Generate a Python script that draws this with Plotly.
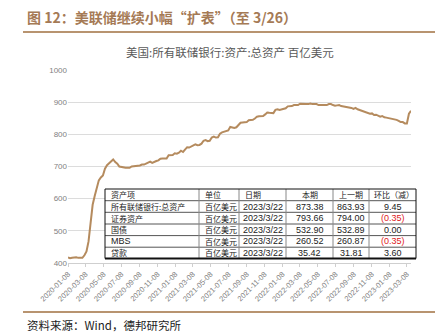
import plotly.graph_objects as go
import pandas as pd

# ---------------- data ----------------
start_date = "2020-01-08"
end_date = "2023-03-22"
values_2020 = [417, 415, 416, 417, 418, 416, 417, 416, 424, 436, 467, 525,
               581, 608, 637, 657, 666, 672, 693, 704, 710, 717, 722, 714, 709,
               700, 698, 697, 696, 696, 696, 700, 701, 700, 702, 703, 706, 706, 709,
               712, 715, 711, 715, 717, 719, 724, 725, 726, 725, 735, 736, 736]
values_2021 = [741, 740, 743, 749, 745, 752, 760, 759, 763, 765, 769, 766, 767,
               771, 780, 782, 779, 780, 790, 793, 790, 791, 802, 806, 808, 808,
               812, 823, 822, 820, 822, 830, 836, 837, 838, 838, 844, 845, 845,
               849, 855, 856, 856, 857, 862, 868, 867, 866, 866, 876, 878, 876]
values_2022 = [878, 879, 881, 887, 887, 888, 891, 890, 891, 895, 894, 894, 894,
               894, 896, 894, 894, 894, 891, 892, 891, 891, 891, 894, 894, 891,
               889, 890, 891, 888, 887, 885, 884, 885, 882, 879, 882, 878, 876,
               872, 870, 869, 868, 864, 865, 860, 861, 857, 855, 857, 853, 852]
values_2023 = [851, 848, 849, 847, 845, 842, 838, 838, 834, 834, 863.93, 873.38]
values = values_2020 + values_2021 + values_2022 + values_2023
dates = pd.date_range(start_date, end_date, freq="7D")

tick_dates = ["2020-01-08", "2020-03-08", "2020-05-08", "2020-07-08", "2020-09-08",
              "2020-11-08", "2021-01-08", "2021-03-08", "2021-05-08", "2021-07-08",
              "2021-09-08", "2021-11-08", "2022-01-08", "2022-03-08", "2022-05-08",
              "2022-07-08", "2022-09-08", "2022-11-08", "2023-01-08", "2023-03-08"]
y_ticks = [400, 500, 600, 700, 800, 900, 1000]

table_header = ["资产项", "单位", "日期", "本期", "上一期", "环比（减）"]
table_items = ["所有联储银行:总资产", "证券资产", "国债", "MBS", "贷款"]
table_unit = ["百亿美元"] * 5
table_date = ["2023/3/22"] * 5
table_current = ["873.38", "793.66", "532.90", "260.52", "35.42"]
table_previous = ["863.93", "794.00", "532.89", "260.87", "31.81"]
table_change = ["9.45", "(0.35)", "0.00", "(0.35)", "3.60"]

title_text = "图 12：美联储继续小幅“扩表”（至 3/26）"
chart_title = "美国:所有联储银行:资产:总资产 百亿美元"
source_text = "资料来源：Wind，德邦研究所"

# ---------------- layout helpers ----------------
W, H = 448, 333
L, R, T, B = 68, 37, 70, 70
PW, PH = W - L - R, H - T - B


def px(x):
    return (x - L) / PW


def py(y):
    return (H - B - y) / PH


CJK = "Noto Sans CJK SC"
LINE_COLOR = "#B58B5E"
BROWN = "#A57A55"

fig = go.Figure()
fig.add_trace(go.Scatter(x=dates, y=values, mode="lines",
                         line=dict(color=LINE_COLOR, width=2),
                         hoverinfo="skip", showlegend=False))

shapes = []
annotations = []

# header texts and rules
annotations.append(dict(text="<b>" + title_text + "</b>", x=px(25), y=py(17), xref="paper", yref="paper",
                        xanchor="left", yanchor="middle", showarrow=False,
                        font=dict(family=CJK, size=14, color=BROWN)))
shapes.append(dict(type="line", xref="paper", yref="paper", x0=px(23), x1=px(435), y0=py(32), y1=py(32),
                   line=dict(color="#B89470", width=2)))
annotations.append(dict(text=chart_title, x=px(230), y=py(52), xref="paper", yref="paper",
                        xanchor="center", yanchor="middle", showarrow=False,
                        font=dict(family=CJK, size=11.5, color="#595959")))
shapes.append(dict(type="line", xref="paper", yref="paper", x0=px(23), x1=px(435), y0=py(312), y1=py(312),
                   line=dict(color="#B89470", width=2)))
annotations.append(dict(text=source_text, x=px(25), y=py(324.5), xref="paper", yref="paper",
                        xanchor="left", yanchor="middle", showarrow=False,
                        font=dict(family=CJK, size=11.5, color="#222222")))

# ---------------- table overlay ----------------
col_edges = [105, 199, 239, 286, 333, 369, 416]
row_edges = [189, 200.7, 212.3, 224, 235.6, 247.2, 258.5]
shapes.append(dict(type="rect", xref="paper", yref="paper", layer="above",
                   x0=px(col_edges[0]), x1=px(col_edges[-1]), y0=py(row_edges[0]), y1=py(row_edges[-1]),
                   fillcolor="white", line=dict(width=0)))
for ry in row_edges[1:-1]:
    shapes.append(dict(type="line", xref="paper", yref="paper", layer="above",
                       x0=px(col_edges[0]), x1=px(col_edges[-1]), y0=py(ry), y1=py(ry),
                       line=dict(color="#555555", width=1)))
for cx in col_edges[1:-1]:
    shapes.append(dict(type="line", xref="paper", yref="paper", layer="above",
                       x0=px(cx), x1=px(cx), y0=py(row_edges[0]), y1=py(row_edges[-1]),
                       line=dict(color="#888888", width=1)))
shapes.append(dict(type="rect", xref="paper", yref="paper", layer="above",
                   x0=px(col_edges[0]), x1=px(col_edges[-1]), y0=py(row_edges[0]), y1=py(row_edges[-1]),
                   line=dict(color="#111111", width=1)))
shapes.append(dict(type="line", xref="paper", yref="paper", layer="above",
                   x0=px(col_edges[0]), x1=px(col_edges[-1]), y0=py(row_edges[-1]), y1=py(row_edges[-1]),
                   line=dict(color="#111111", width=2)))

columns = [table_items, table_unit, table_date, table_current, table_previous, table_change]
aligns = ["left", "left", "center", "center", "center", "center"]
for ci, col in enumerate(columns):
    cells = [table_header[ci]] + list(col)
    for ri, txt in enumerate(cells):
        yc = (row_edges[ri] + row_edges[ri + 1]) / 2
        if aligns[ci] == "left" or (ri == 0 and ci < 3):
            xx, anchor = col_edges[ci] + 4, "left"
        else:
            xx, anchor = (col_edges[ci] + col_edges[ci + 1]) / 2, "center"
        if ri == 0 and ci == 5:
            xx, anchor = col_edges[ci] + 3, "left"
        color = "#222222"
        if txt.startswith("("):
            color = "#E0201B"
        is_num = any(ch.isdigit() for ch in txt) or txt == "MBS"
        annotations.append(dict(text=txt, x=px(xx), y=py(yc), xref="paper", yref="paper",
                                xanchor=anchor, yanchor="middle", showarrow=False,
                                font=dict(family=CJK if not is_num else "Liberation Sans",
                                          size=9 if is_num else 8, color=color)))

fig.update_layout(
    width=W, height=H,
    margin=dict(l=L, r=R, t=T, b=B),
    paper_bgcolor="white", plot_bgcolor="white",
    shapes=shapes, annotations=annotations,
    showlegend=False,
    xaxis=dict(range=[start_date, end_date], tickvals=tick_dates, ticktext=tick_dates,
               tickangle=-45, tickfont=dict(family="Liberation Sans", size=7.5, color="#7f7f7f"),
               showgrid=False, showline=True, linecolor="#cfcfcf", linewidth=1,
               ticks="outside", ticklen=3, tickcolor="#cfcfcf", zeroline=False),
    yaxis=dict(range=[400, 1000], tickvals=y_ticks,
               tickfont=dict(family="Liberation Sans", size=8, color="#7f7f7f"),
               showgrid=True, gridcolor="#dcdcdc", gridwidth=1, zeroline=False,
               showline=False, ticks=""),
)

fig.write_html("out.html")
